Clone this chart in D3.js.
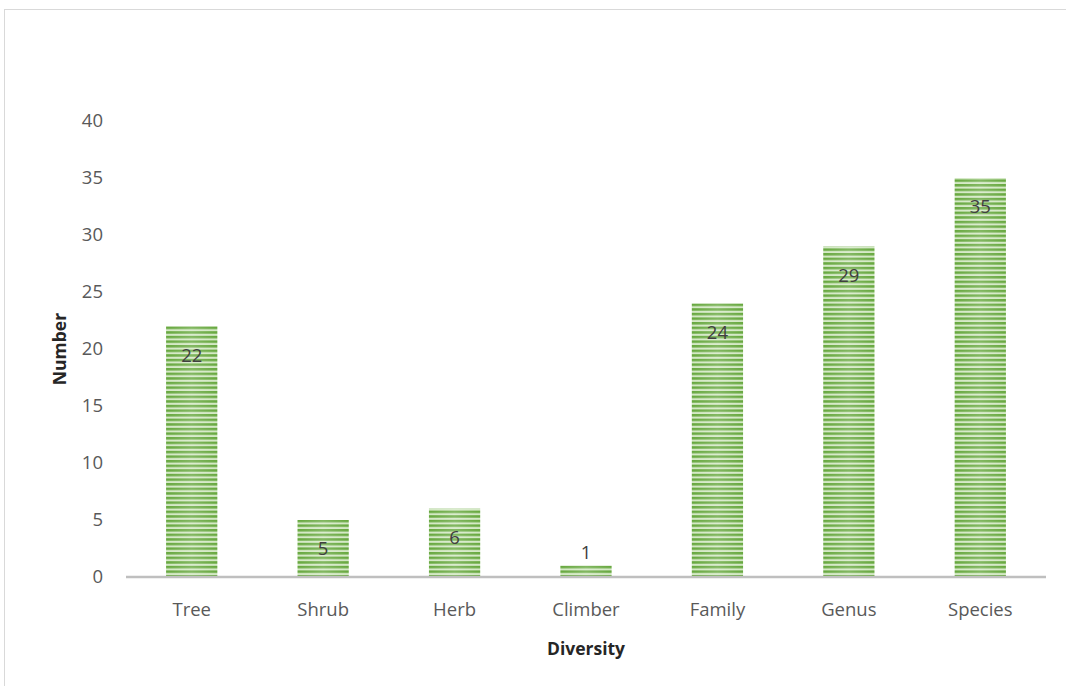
<!DOCTYPE html>
<html><head><meta charset="utf-8">
<script src="https://cdn.jsdelivr.net/npm/d3@7/dist/d3.min.js"></script>
<style>html,body{margin:0;padding:0;background:#fff;}svg{display:block;}</style>
</head><body>
<svg id="chart" width="1066" height="686"></svg>
<script>
const categories = ["Tree","Shrub","Herb","Climber","Family","Genus","Species"];
const values = [22,5,6,1,24,29,35];
const yTicks = [0,5,10,15,20,25,30,35,40];
const xTitle = "Diversity";
const yTitle = "Number";

const svg = d3.select("#chart");
const font = "'Open Sans', Lato, sans-serif";
const m = {left:126, right:1046, top:121, bottom:577};

// outer border
svg.append("rect").attr("x",4.5).attr("y",9.5).attr("width",1070).attr("height",690)
  .attr("fill","none").attr("stroke","#d9d9d9").attr("stroke-width",1);

const x = d3.scaleBand().domain(categories).range([m.left,m.right]).paddingInner(0.61).paddingOuter(0.305);
const y = d3.scaleLinear().domain([0,40]).range([m.bottom,m.top]);

const defs = svg.append("defs");
const pat = defs.append("pattern").attr("id","stripes").attr("patternUnits","userSpaceOnUse")
  .attr("width",10).attr("height",4.6);
pat.append("rect").attr("width",10).attr("height",4.6).attr("fill","#d3e8c4");
pat.append("rect").attr("width",10).attr("height",2.5).attr("fill","#67a83f");
const grad = defs.append("linearGradient").attr("id","shine").attr("x1","0").attr("x2","1").attr("y1","0").attr("y2","0");
grad.append("stop").attr("offset","0").attr("stop-color","#fff").attr("stop-opacity",0);
grad.append("stop").attr("offset","0.5").attr("stop-color","#fff").attr("stop-opacity",0.18);
grad.append("stop").attr("offset","1").attr("stop-color","#fff").attr("stop-opacity",0);

// y tick labels
svg.append("g").selectAll("text").data(yTicks).join("text")
  .attr("x",103).attr("y",d=>y(d)).attr("dy","0.35em").attr("text-anchor","end")
  .attr("font-family",font).attr("font-size",18.5).attr("fill","#595959").text(d=>d);

const data = categories.map((c,i)=>({c,v:values[i]}));
const bars = svg.append("g");
bars.selectAll("rect.bar").data(data).join("rect").attr("class","bar")
  .attr("x",d=>x(d.c)).attr("y",d=>y(d.v)).attr("width",x.bandwidth()).attr("height",d=>y(0)-y(d.v))
  .attr("fill","url(#stripes)");
bars.selectAll("rect.shine").data(data).join("rect").attr("class","shine")
  .attr("x",d=>x(d.c)).attr("y",d=>y(d.v)).attr("width",x.bandwidth()).attr("height",d=>y(0)-y(d.v))
  .attr("fill","url(#shine)");

// axis line
svg.append("line").attr("x1",m.left).attr("x2",m.right).attr("y1",y(0)).attr("y2",y(0))
  .attr("stroke","#bfbfbf").attr("stroke-width",2.5);

// data labels
svg.append("g").selectAll("text").data(data).join("text")
  .attr("x",d=>x(d.c)+x.bandwidth()/2)
  .attr("y",d=>(y(0)-y(d.v)) < 40 ? y(d.v)-13 : y(d.v)+29)
  .attr("dy","0.35em").attr("text-anchor","middle")
  .attr("font-family",font).attr("font-size",18.5).attr("fill","#404040").text(d=>d.v);

// x labels
svg.append("g").selectAll("text").data(categories).join("text")
  .attr("x",d=>x(d)+x.bandwidth()/2).attr("y",610).attr("dy","0.35em").attr("text-anchor","middle")
  .attr("font-family",font).attr("font-size",18.5).attr("fill","#595959").text(d=>d);

// titles
svg.append("text").attr("x",(m.left+m.right)/2).attr("y",649).attr("dy","0.35em").attr("text-anchor","middle")
  .attr("font-family",font).attr("font-size",17.5).attr("font-weight","bold").attr("fill","#262626").text(xTitle);
svg.append("text").attr("transform",`translate(60,${(m.top+m.bottom)/2}) rotate(-90)`).attr("dy","0.35em")
  .attr("text-anchor","middle").attr("font-family",font).attr("font-size",17.5).attr("font-weight","bold")
  .attr("fill","#262626").text(yTitle);
</script>
</body></html>
